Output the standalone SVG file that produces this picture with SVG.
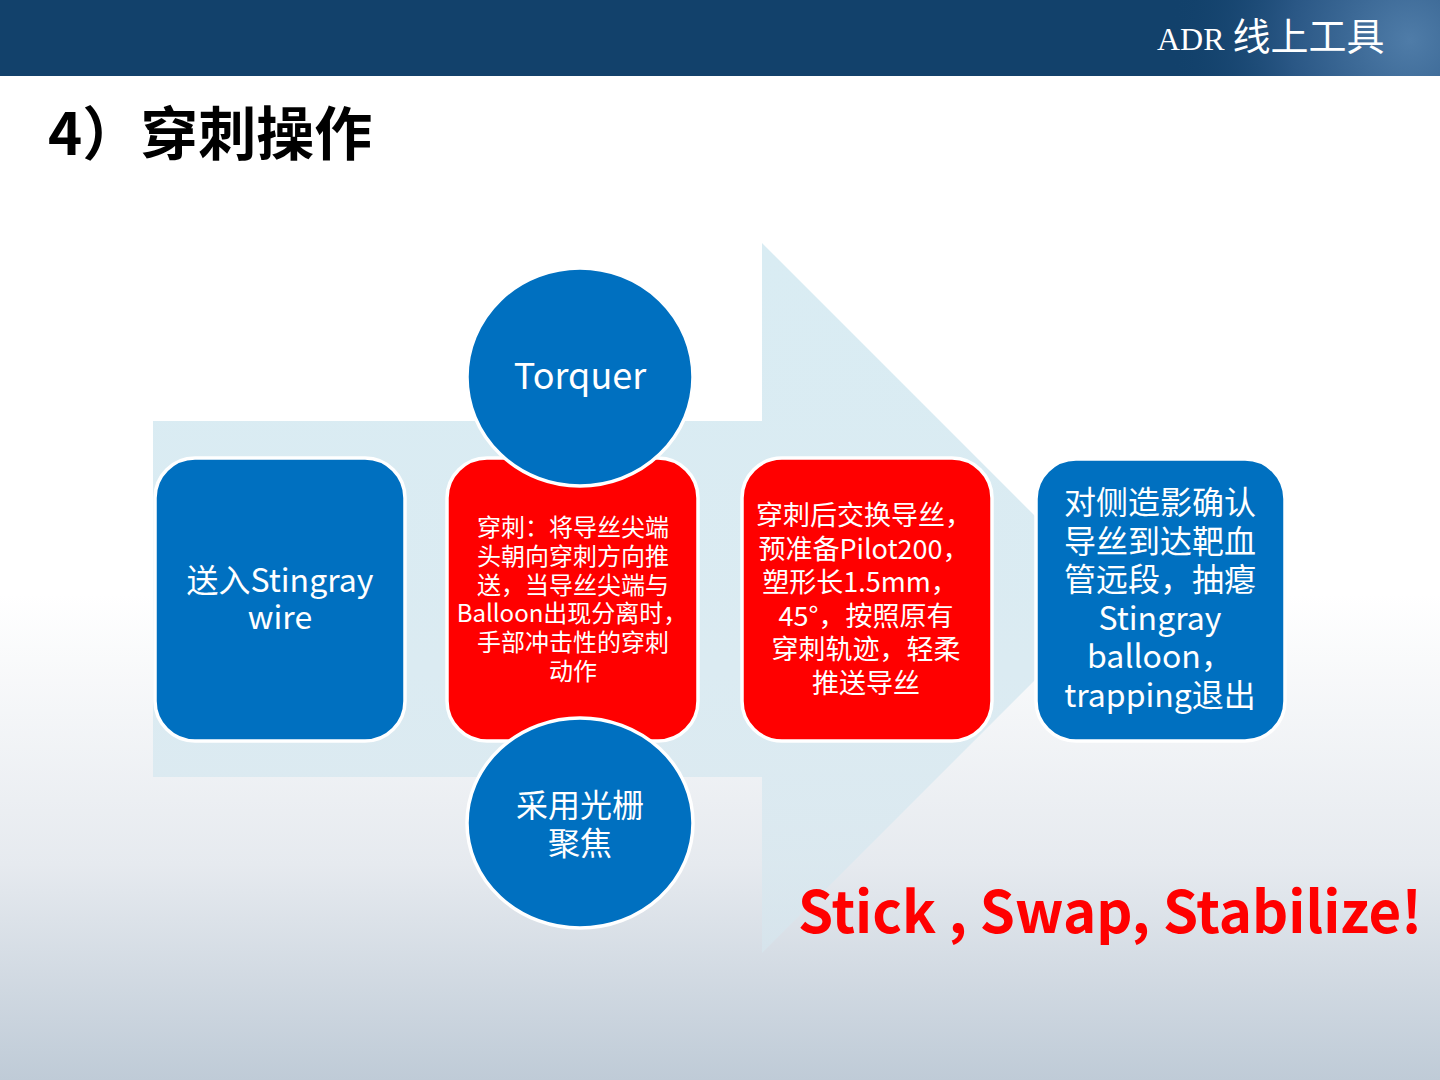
<svg xmlns="http://www.w3.org/2000/svg" width="1440" height="1080" viewBox="0 0 1440 1080">
<defs>
<linearGradient id="bg" x1="0" y1="0" x2="0" y2="1">
<stop offset="0" stop-color="#ffffff"/>
<stop offset="0.55" stop-color="#ffffff"/>
<stop offset="0.8" stop-color="#e6eaef"/>
<stop offset="1" stop-color="#bfcbd7"/>
</linearGradient>
<linearGradient id="arrowFill" x1="0" y1="0" x2="0" y2="1">
<stop offset="0" stop-color="#d9ecf3"/>
<stop offset="0.6" stop-color="#dbebf2"/>
<stop offset="1" stop-color="#d6e6ee" stop-opacity="0.7"/>
</linearGradient>
<radialGradient id="hdrGlow" cx="1410" cy="40" r="240" gradientUnits="userSpaceOnUse">
<stop offset="0" stop-color="#4f7ca8"/>
<stop offset="0.5" stop-color="#2a5785"/>
<stop offset="1" stop-color="#12416b" stop-opacity="0"/>
</radialGradient>
<style>
.blue{fill:#0070c0;stroke:#ffffff;stroke-width:3.5}
.red{fill:#ff0000;stroke:#ffffff;stroke-width:3.5}
.t{font-family:"Noto Sans CJK SC","Noto Sans",sans-serif;fill:#ffffff;text-anchor:middle}
</style>
</defs>
<rect x="0" y="0" width="1440" height="1080" fill="url(#bg)"/>
<g id="header">
<rect x="0" y="0" width="1440" height="76" fill="#12416b"/>
<rect x="1000" y="0" width="440" height="76" fill="url(#hdrGlow)"/>
<text x="1157" y="50" font-family="Liberation Serif,serif" font-size="32" fill="#ffffff">ADR <tspan font-family="Noto Sans CJK SC,sans-serif" font-size="38">线上工具</tspan></text>
</g>
<text id="title" x="48" y="155" font-family="Noto Sans CJK SC,sans-serif" font-weight="bold" font-size="58" fill="#000000">4）穿刺操作</text>
<g id="connectors">
<path d="M153,421 L762,421 L762,243 L1117,598 L762,953 L762,777 L153,777 Z" fill="url(#arrowFill)"/>
</g>
<g id="node-send">
<rect class="blue" x="155" y="458" width="250" height="283" rx="40"/>
<text class="t" font-size="32"><tspan x="280" y="592">送入Stingray</tspan><tspan x="280" y="629">wire</tspan></text>
</g>
<g id="node-puncture">
<rect class="red" x="447" y="458" width="251" height="283" rx="40"/>
<text class="t" font-size="24"><tspan x="573" y="536">穿刺：将导丝尖端</tspan><tspan x="573" y="565">头朝向穿刺方向推</tspan><tspan x="573" y="594">送，当导丝尖端与</tspan><tspan x="572" y="622">Balloon出现分离时，</tspan><tspan x="573" y="651">手部冲击性的穿刺</tspan><tspan x="573" y="680">动作</tspan></text>
</g>
<g id="node-torquer">
<ellipse class="blue" cx="580" cy="377" rx="113" ry="109"/>
<text class="t" font-size="36" x="580" y="389">Torquer</text>
</g>
<g id="node-focus">
<ellipse class="blue" cx="580" cy="823" rx="113" ry="105"/>
<text class="t" font-size="32"><tspan x="580" y="817">采用光栅</tspan><tspan x="580" y="855">聚焦</tspan></text>
</g>
<g id="node-swap">
<rect class="red" x="742" y="458" width="250" height="283" rx="40"/>
<text class="t" font-size="27"><tspan x="864" y="525">穿刺后交换导丝，</tspan><tspan x="864" y="559">预准备Pilot200，</tspan><tspan x="860" y="592">塑形长1.5mm，</tspan><tspan x="866" y="626">45°，按照原有</tspan><tspan x="866" y="659">穿刺轨迹，轻柔</tspan><tspan x="866" y="693">推送导丝</tspan></text>
</g>
<g id="node-confirm">
<rect class="blue" x="1036" y="459" width="249" height="282" rx="40"/>
<text class="t" font-size="32"><tspan x="1160" y="514">对侧造影确认</tspan><tspan x="1160" y="553">导丝到达靶血</tspan><tspan x="1160" y="591">管远段，抽瘪</tspan><tspan x="1160" y="630">Stingray</tspan><tspan x="1160" y="668">balloon，</tspan><tspan x="1160" y="707">trapping退出</tspan></text>
</g>
<text id="slogan" x="798" y="933" font-family="Noto Sans CJK SC,Noto Sans,sans-serif" font-weight="bold" font-size="58" fill="#ff0000" textLength="624" lengthAdjust="spacingAndGlyphs">Stick , Swap, Stabilize!</text>
</svg>
